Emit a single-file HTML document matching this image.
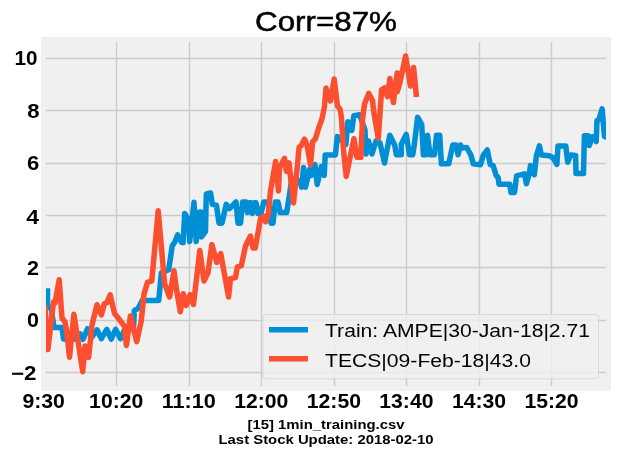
<!DOCTYPE html>
<html><head><meta charset="utf-8"><style>
html,body{margin:0;padding:0;background:#fff;width:617px;height:458px;overflow:hidden}
svg{display:block}
text{font-family:"Liberation Sans",sans-serif;fill:#000}
</style></head><body>
<svg width="617" height="458" viewBox="0 0 617 458">
<rect x="0" y="0" width="617" height="458" fill="#fff"/>
<rect x="41" y="37" width="570" height="354" fill="#f0f0f0"/>
<g stroke="#cbcbcb" stroke-width="1.4"><line x1="46" x2="606" y1="58.5" y2="58.5"/><line x1="46" x2="606" y1="110.5" y2="110.5"/><line x1="46" x2="606" y1="163.5" y2="163.5"/><line x1="46" x2="606" y1="215.5" y2="215.5"/><line x1="46" x2="606" y1="267.5" y2="267.5"/><line x1="46" x2="606" y1="320.5" y2="320.5"/><line x1="46" x2="606" y1="372.5" y2="372.5"/><line x1="116.5" x2="116.5" y1="42" y2="386"/><line x1="189.5" x2="189.5" y1="42" y2="386"/><line x1="261.5" x2="261.5" y1="42" y2="386"/><line x1="334.5" x2="334.5" y1="42" y2="386"/><line x1="406.5" x2="406.5" y1="42" y2="386"/><line x1="479.5" x2="479.5" y1="42" y2="386"/><line x1="551.5" x2="551.5" y1="42" y2="386"/></g>
<svg x="46" y="42" width="560" height="344" viewBox="46 42 560 344" overflow="hidden"><polyline fill="none" stroke="#008fd5" stroke-width="5.5" stroke-linejoin="round" stroke-linecap="square" points="47.5,291.0 47.5,307.3 51.0,307.3 54.0,327.5 62.0,327.5 63.6,339.0 76.0,339.0 80.3,334.0 83.0,339.4 87.5,328.7 92.0,337.0 97.0,329.8 101.4,338.7 106.8,329.3 111.2,339.2 115.6,329.3 120.5,338.7 125.0,329.0 133.5,329.0 134.3,310.6 138.2,308.2 142.2,300.5 158.7,300.5 159.8,289.5 161.3,272.8 168.7,269.8 172.2,245.9 174.7,242.2 177.6,234.9 181.6,242.6 183.1,242.6 184.7,213.6 188.6,219.7 189.7,241.5 194.0,202.2 196.2,241.5 199.5,212.0 201.0,212.0 201.5,237.0 205.5,231.5 206.3,194.0 210.6,193.0 212.3,204.4 216.4,205.2 219.0,223.2 222.0,223.2 226.2,204.4 229.5,208.5 236.0,202.0 238.0,223.2 240.5,223.2 242.6,202.0 246.0,202.0 247.5,212.6 249.5,202.7 251.0,202.7 252.4,213.4 254.0,202.7 256.0,202.7 258.0,213.4 261.0,213.4 263.8,202.0 268.7,202.0 271.0,223.2 273.0,223.2 275.3,202.0 278.0,202.0 280.2,212.6 286.7,212.6 292.0,178.0 300.0,181.0 301.6,187.2 303.6,167.6 305.5,187.2 309.5,169.6 311.4,175.5 314.9,164.6 317.2,184.5 321.3,166.6 324.2,175.5 325.2,155.0 335.4,155.0 337.3,136.6 345.9,144.3 347.9,121.7 351.8,130.5 353.8,115.8 359.6,114.8 365.0,130.0 366.0,154.0 368.5,141.0 372.0,154.0 376.0,141.0 380.0,143.0 384.5,163.0 389.8,135.2 394.7,145.0 396.4,154.8 401.3,154.8 401.3,144.2 406.2,134.4 409.5,154.8 412.7,154.8 414.4,144.2 417.6,117.2 421.7,124.5 423.4,154.8 426.0,154.8 427.5,135.2 430.0,154.8 434.5,154.8 436.5,135.2 439.7,135.2 441.4,163.8 448.7,163.8 452.8,145.0 456.0,145.0 458.0,154.8 460.5,145.0 462.0,148.0 466.7,147.5 470.8,154.8 473.3,163.8 480.5,164.7 483.4,154.9 487.3,150.0 490.3,164.7 493.2,165.7 496.2,175.5 498.1,177.5 499.0,184.2 509.7,184.2 511.0,192.5 514.5,192.5 516.6,175.8 524.5,173.8 526.4,183.7 529.4,172.9 530.5,165.5 534.3,174.8 536.4,155.7 539.4,145.9 541.3,155.0 549.2,155.7 553.1,157.7 556.9,164.3 558.0,146.0 565.8,146.1 567.7,162.3 570.7,155.0 575.6,155.5 576.0,173.5 583.5,173.5 584.4,135.8 588.4,135.8 589.3,145.6 592.3,136.8 595.0,136.8 596.2,141.7 597.0,120.5 599.0,119.6 602.1,108.8 604.5,136.5 606.0,137.0"/><polyline fill="none" stroke="#fc4f30" stroke-width="5.5" stroke-linejoin="round" stroke-linecap="butt" points="45.0,306.0 47.9,349.6 53.5,302.0 55.0,303.0 59.2,279.7 62.0,318.0 65.0,322.0 66.5,330.0 69.5,357.3 73.9,314.3 82.7,371.7 85.0,346.0 88.6,357.3 92.0,325.0 97.0,304.7 101.4,315.0 104.3,303.8 106.8,302.8 110.2,294.9 114.6,313.6 118.6,318.5 124.5,326.3 126.4,345.5 130.4,316.0 136.7,341.6 141.2,321.4 143.9,294.6 147.4,282.4 151.8,280.9 158.2,210.7 164.6,283.8 169.6,297.0 174.0,270.8 176.5,289.5 180.3,311.8 183.2,293.7 186.2,305.5 190.1,294.6 193.5,304.5 199.8,250.5 204.0,281.0 208.0,272.7 211.9,244.6 216.8,262.5 220.7,253.5 228.6,297.0 230.5,278.6 235.5,277.6 237.4,266.8 241.3,265.8 245.5,246.0 250.4,236.0 253.0,248.0 255.3,248.0 260.7,217.5 264.0,216.4 265.7,221.8 268.4,213.1 270.5,191.0 275.6,161.5 278.5,191.0 279.5,168.0 284.5,158.3 286.4,171.4 289.0,162.9 293.5,203.0 297.5,165.0 299.1,147.2 301.0,146.0 304.5,139.1 307.0,145.0 310.5,164.8 312.6,141.8 315.3,139.1 318.6,128.3 320.0,124.2 322.0,118.8 324.4,107.0 326.0,88.0 330.5,101.0 334.2,79.0 337.5,106.0 340.0,109.0 341.5,118.0 343.5,150.0 346.2,176.5 353.9,138.7 356.9,157.3 360.8,157.3 362.5,119.7 364.5,104.0 368.7,93.4 372.6,100.7 373.5,110.0 376.0,125.0 378.3,138.4 381.6,89.8 384.6,87.9 387.5,96.7 389.9,78.5 393.4,102.6 397.2,72.9 397.3,91.8 400.2,81.4 405.6,56.0 410.5,86.0 413.6,67.5 416.5,97.0"/></svg>
<g style="filter:grayscale(1)"><text x="326" y="31" font-size="28" text-anchor="middle" textLength="142" lengthAdjust="spacingAndGlyphs" stroke="#000" stroke-width="0.5">Corr=87%</text>
<text x="14.4" y="65.2" font-size="19.4" font-weight="bold" textLength="23.0" lengthAdjust="spacingAndGlyphs">10</text><text x="27.3" y="118" font-size="19.4" font-weight="bold" textLength="12.3" lengthAdjust="spacingAndGlyphs">8</text><text x="27.0" y="170.3" font-size="19.4" font-weight="bold" textLength="12.3" lengthAdjust="spacingAndGlyphs">6</text><text x="26.3" y="223.6" font-size="19.4" font-weight="bold" textLength="12.8" lengthAdjust="spacingAndGlyphs">4</text><text x="27.0" y="275" font-size="19.4" font-weight="bold" textLength="12.0" lengthAdjust="spacingAndGlyphs">2</text><text x="27.0" y="327.3" font-size="19.4" font-weight="bold" textLength="12.0" lengthAdjust="spacingAndGlyphs">0</text><text x="11.0" y="380" font-size="19.4" font-weight="bold" textLength="25.5" lengthAdjust="spacingAndGlyphs">−2</text>
<text x="43.7" y="408" font-size="19.4" text-anchor="middle" font-weight="bold" textLength="42.5" lengthAdjust="spacingAndGlyphs">9:30</text><text x="116.2" y="408" font-size="19.4" text-anchor="middle" font-weight="bold" textLength="54.2" lengthAdjust="spacingAndGlyphs">10:20</text><text x="188.8" y="408" font-size="19.4" text-anchor="middle" font-weight="bold" textLength="54.2" lengthAdjust="spacingAndGlyphs">11:10</text><text x="261.3" y="408" font-size="19.4" text-anchor="middle" font-weight="bold" textLength="54.2" lengthAdjust="spacingAndGlyphs">12:00</text><text x="333.9" y="408" font-size="19.4" text-anchor="middle" font-weight="bold" textLength="54.2" lengthAdjust="spacingAndGlyphs">12:50</text><text x="406.4" y="408" font-size="19.4" text-anchor="middle" font-weight="bold" textLength="54.2" lengthAdjust="spacingAndGlyphs">13:40</text><text x="479.0" y="408" font-size="19.4" text-anchor="middle" font-weight="bold" textLength="54.2" lengthAdjust="spacingAndGlyphs">14:30</text><text x="551.5" y="408" font-size="19.4" text-anchor="middle" font-weight="bold" textLength="54.2" lengthAdjust="spacingAndGlyphs">15:20</text>
</g><rect x="263" y="314.5" width="335.5" height="64.3" rx="3" ry="3" fill="#f0f0f0" fill-opacity="0.8" stroke="#d9d9d9" stroke-width="1"/>
<line x1="269" x2="308" y1="329.8" y2="329.8" stroke="#008fd5" stroke-width="5.5"/><line x1="269" x2="308" y1="358.8" y2="358.8" stroke="#fc4f30" stroke-width="5.5"/>
<g style="filter:grayscale(1)"><text x="325" y="337" font-size="18.7" textLength="265" lengthAdjust="spacingAndGlyphs">Train: AMPE|30-Jan-18|2.71</text><text x="325" y="367" font-size="18.7" textLength="206" lengthAdjust="spacingAndGlyphs">TECS|09-Feb-18|43.0</text>
<text x="326" y="428.6" font-size="12" text-anchor="middle" font-weight="bold" textLength="157" lengthAdjust="spacingAndGlyphs">[15] 1min_training.csv</text><text x="326" y="444.4" font-size="12" text-anchor="middle" font-weight="bold" textLength="215" lengthAdjust="spacingAndGlyphs">Last Stock Update: 2018-02-10</text>
</g></svg></body></html>
